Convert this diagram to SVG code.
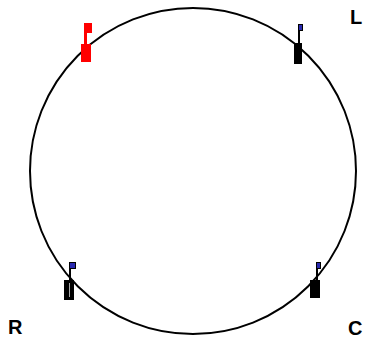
<svg xmlns="http://www.w3.org/2000/svg" width="366" height="347" viewBox="0 0 366 347">
  <style>
    .lbl { font-family: "Liberation Sans", Arial, sans-serif; font-size: 20px; font-weight: bold; fill: #000; }
    .body { fill: #000; }
    .flag { fill: #2a2ab0; stroke: #000; stroke-width: 1; }
    .red { fill: #ff0000; }
  </style>
  <rect width="366" height="347" fill="#fff"/>
  <g id="ring">
    <circle cx="193" cy="171" r="163" fill="none" stroke="#000" stroke-width="2"/>
  </g>
  <g id="marker-red">
    <rect class="red" x="81" y="44" width="10" height="18"/>
    <rect class="red" x="84" y="33" width="3" height="11"/>
    <rect class="red" x="84" y="23" width="8" height="10"/>
  </g>
  <g id="marker-L">
    <rect class="body" x="294" y="43" width="8" height="21"/>
    <rect class="body" x="298" y="31" width="2" height="12"/>
    <rect class="flag" x="298.5" y="24.5" width="4" height="6"/>
  </g>
  <g id="marker-R">
    <rect class="body" x="64" y="280" width="10" height="20"/>
    <line x1="69.5" y1="283" x2="69.5" y2="297" stroke="#aaa" stroke-width="1"/>
    <rect class="body" x="69" y="269" width="2" height="11"/>
    <rect class="flag" x="69.5" y="262.5" width="6" height="6"/>
  </g>
  <g id="marker-C">
    <rect class="body" x="310" y="280" width="10" height="18"/>
    <rect class="body" x="316" y="269" width="2" height="11"/>
    <rect class="flag" x="316.5" y="262.5" width="4" height="6"/>
  </g>
  <g id="labels">
    <text class="lbl" x="350" y="24">L</text>
    <text class="lbl" x="8" y="334">R</text>
    <text class="lbl" x="348" y="335">C</text>
  </g>
</svg>
